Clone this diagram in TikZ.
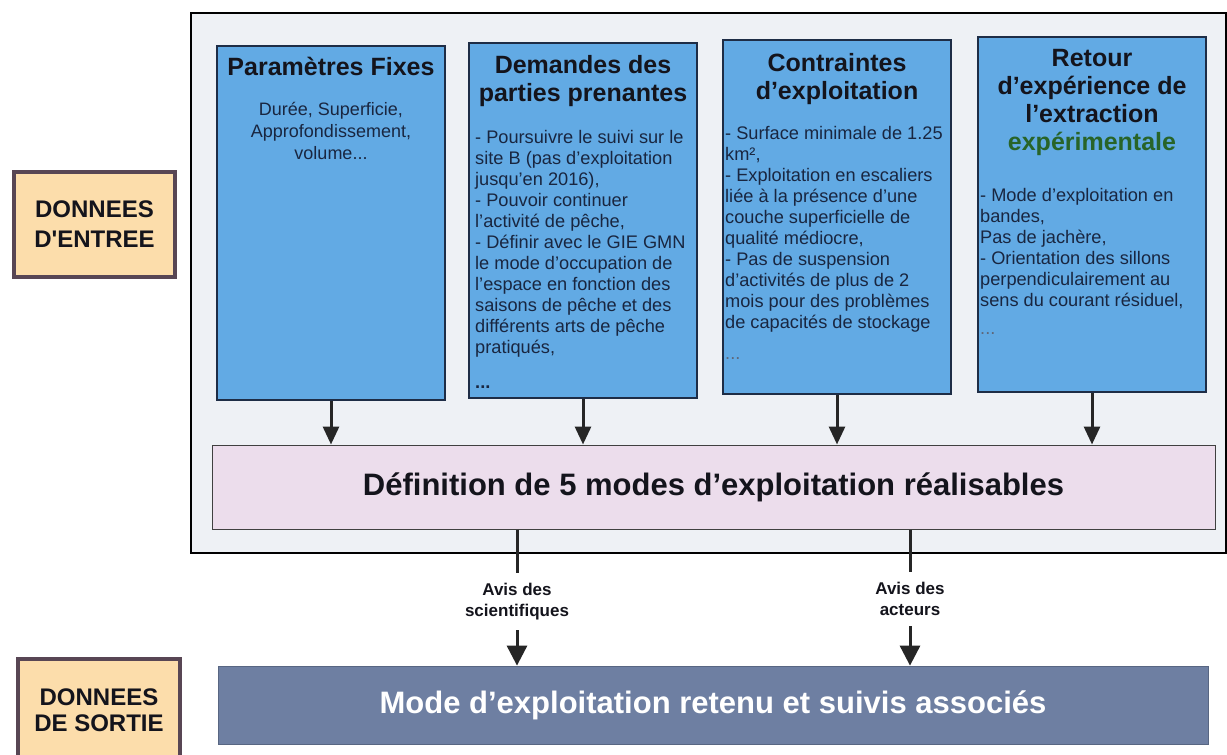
\documentclass[tikz,border=0pt]{standalone}
\usepackage{fontspec}
\setmainfont{Liberation Sans}
\usetikzlibrary{arrows.meta}
\definecolor{peach}{RGB}{252,221,171}
\definecolor{peachline}{RGB}{88,70,84}
\definecolor{framebg}{RGB}{238,241,245}
\definecolor{boxblue}{RGB}{98,170,228}
\definecolor{boxline}{RGB}{30,45,70}
\definecolor{defpink}{RGB}{236,221,236}
\definecolor{slate}{RGB}{110,127,162}
\definecolor{bodytxt}{RGB}{25,38,64}
\definecolor{titletxt}{RGB}{20,20,28}
\definecolor{expgreen}{RGB}{40,100,40}
\begin{document}
\begin{tikzpicture}[x=1pt,y=-1pt,
  peachbox/.style={draw=peachline, line width=4pt, fill=peach, align=center,
    font=\fontsize{24}{30}\selectfont\bfseries, text=titletxt, inner sep=0pt},
  frame/.style={draw=black, line width=1.2pt, fill=framebg, inner sep=0pt},
  bluebox/.style={draw=boxline, line width=1.2pt, fill=boxblue, inner sep=0pt,
    minimum width=228pt},
  boxtitle/.style={anchor=north, align=center, inner sep=0pt, text=titletxt,
    font=\fontsize{25}{28}\selectfont\bfseries},
  boxbody/.style={anchor=north west, align=left, inner sep=0pt, text=bodytxt,
    font=\fontsize{18.2}{21}\selectfont},
  defbox/.style={draw=black!75, line width=1pt, fill=defpink, inner sep=0pt,
    font=\fontsize{31}{36}\selectfont\bfseries, text=titletxt},
  modebox/.style={draw=slate!80!black, line width=0.8pt, fill=slate, inner sep=0pt,
    font=\fontsize{31}{36}\selectfont\bfseries, text=white},
  arrA/.style={line width=3pt, draw=black!85, -{Triangle[width=16pt,length=18pt]}},
  arrB/.style={line width=3pt, draw=black!85, -{Triangle[width=20pt,length=20pt]}},
  lbl/.style={fill=white, inner xsep=1pt, inner ysep=10pt, align=center,
    font=\fontsize{17}{21}\selectfont\bfseries, text=titletxt}
]
\clip (0,0) rectangle (1227,755);
\fill[white] (0,0) rectangle (1227,755);

% left labels
\node[peachbox, minimum width=161pt, minimum height=105pt] (din) at (94.5,224.5)
  {DONNEES\\D\textquotesingle ENTREE};
\node[peachbox, minimum width=162pt, minimum height=103pt,
  font=\fontsize{24}{26}\selectfont\bfseries] (dout) at (99,710.5)
  {DONNEES\\DE SORTIE};

% outer frame
\node[frame, minimum width=1035pt, minimum height=540pt] (fr) at (708.5,283) {};

% four blue boxes
\node[bluebox, minimum height=354pt] (b1) at (331,223) {};
\node[bluebox, minimum height=355pt] (b2) at (583,220.5) {};
\node[bluebox, minimum height=354pt] (b3) at (837,217) {};
\node[bluebox, minimum height=355pt] (b4) at (1092,214.5) {};

% titles
\node[boxtitle] (t1) at (331,55.4) {\strut Paramètres Fixes};
\node[boxtitle] (t2) at (583,53.4) {\strut Demandes des\\parties prenantes};
\node[boxtitle] (t3) at (837,51.4) {\strut Contraintes\\d’exploitation};
\node[boxtitle] (t4) at (1092,46.4) {\strut Retour\\d’expérience de\\l’extraction\\{\color{expgreen}expérimentale}};

% bodies
\node[boxbody, anchor=north, align=center, font=\fontsize{18}{22}\selectfont] (x1) at (331,100)
  {\strut Durée, Superficie,\\Approfondissement,\\volume...};
\node[boxbody] (x2) at (475,129)
  {\strut - Poursuivre le suivi sur le\\site B (pas d’exploitation\\jusqu’en 2016),\\- Pouvoir continuer\\l’activité de pêche,\\- Définir avec le GIE GMN\\le mode d’occupation de\\l’espace en fonction des\\saisons de pêche et des\\différents arts de pêche\\pratiqués,\\[14pt]\textbf{...}};
\node[boxbody] (x3) at (725,125)
  {\strut - Surface minimale de 1.25\\km²,\\- Exploitation en escaliers\\liée à la présence d’une\\couche superficielle de\\qualité médiocre,\\- Pas de suspension\\d’activités de plus de 2\\mois pour des problèmes\\de capacités de stockage\\[10pt]{\color{bodytxt!70}...}};
\node[boxbody] (x4) at (980,186.5)
  {\strut - Mode d’exploitation en\\bandes,\\Pas de jachère,\\- Orientation des sillons\\perpendiculairement au\\sens du courant résiduel,\\[7pt]{\color{bodytxt!70}...}};

% definition box
\node[defbox, minimum width=1003pt, minimum height=84pt] (def) at (713.5,487)
  {Définition de 5 modes d’exploitation réalisables};

% output box
\node[modebox, minimum width=990pt, minimum height=78pt] (mode) at (713,705)
  {Mode d’exploitation retenu et suivis associés};

% arrows from boxes to definition
\draw[arrA] (b1.south) -- (b1.south |- def.north);
\draw[arrA] (b2.south) -- (b2.south |- def.north);
\draw[arrA] (b3.south) -- (b3.south |- def.north);
\draw[arrA] (b4.south) -- (b4.south |- def.north);

% arrows from definition to output
\draw[arrB] ([xshift=-196.5pt]def.south) -- ([xshift=-196.5pt]def.south |- mode.north)
  node[lbl, pos=0.53] (l1) {Avis des\\scientifiques};
\draw[arrB] ([xshift=196.5pt]def.south) -- ([xshift=196.5pt]def.south |- mode.north)
  node[lbl, pos=0.51] (l2) {Avis des\\acteurs};
\end{tikzpicture}
\end{document}
